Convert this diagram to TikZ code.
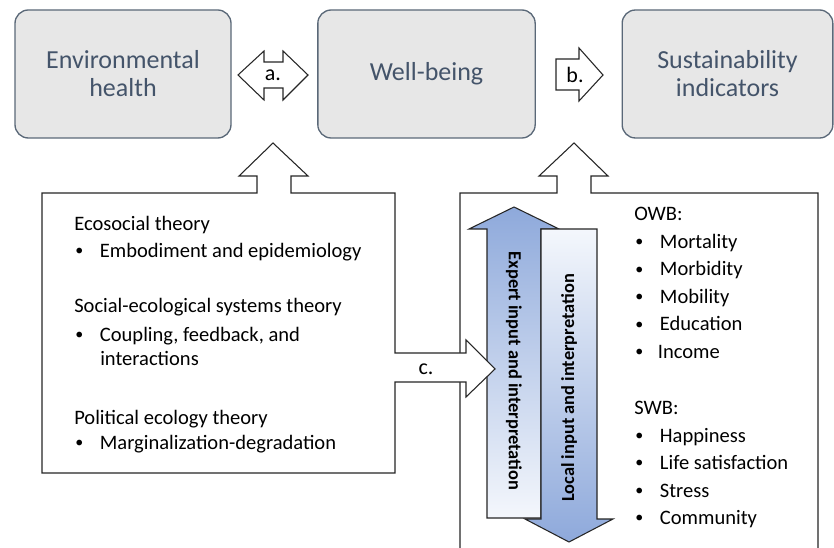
\documentclass[tikz,border=0pt]{standalone}
\usepackage{fontspec}
\setmainfont{Carlito}
\usepackage{graphicx}
\usepackage{tikz}
\usetikzlibrary{calc,positioning}

\definecolor{boxfill}{HTML}{E7E7E7}
\definecolor{boxline}{HTML}{5A6878}
\definecolor{boxtext}{HTML}{44546A}
\definecolor{arrblue}{HTML}{8EA9DB}
\definecolor{arrwhite}{HTML}{F4F7FC}

\newcommand{\blt}{\raisebox{.09em}{\scalebox{.78}{\textbullet}}}

\begin{document}
\begin{tikzpicture}[x=0.75pt,y=-0.75pt,
  box/.style={draw=boxline,line width=1pt,fill=boxfill,rounded corners=10pt,minimum height=96pt,
    text=boxtext,align=center,font=\fontsize{19.5}{21}\selectfont},
  blk/.style={draw=black!85,line width=0.8pt,fill=white},
  lbl/.style={font=\fontsize{16.5}{18}\selectfont,inner sep=0pt},
  itm/.style={anchor=base west,font=\fontsize{15.4}{18}\selectfont,inner sep=0pt},
  vtxt/.style={font=\bfseries\fontsize{13.8}{16}\selectfont,inner sep=0pt}]
  \useasboundingbox (0,0) rectangle (834,548);
  \clip (0,0) rectangle (834,548);

  % top row
  \node[box,minimum width=162pt] (env) at (123,74) {Environmental\\health};
  \node[box,minimum width=163pt] (well) at (426.5,74) {Well-being};
  \node[box,minimum width=158pt] (sust) at (727.5,74) {Sustainability\\indicators};

  % a. and b.
  \draw[blk] (238,75) -- (264,51) -- (264,62) -- (283,62) -- (283,51) -- (308,75)
    -- (283,100) -- (283,88) -- (264,88) -- (264,100) -- cycle;
  \node[lbl] (a) at (273,75) {a.};
  \draw[blk] (556,59) -- (579,59) -- (579,48) -- (603,75) -- (579,101) -- (579,90) -- (556,90) -- cycle;
  \node[lbl] (b) at (575,75) {b.};

  % right box with arrow up to well-being
  \draw[blk] (460,560) -- (460,193) -- (557,193) -- (557,176) -- (539,176) -- (574,143)
    -- (608,176) -- (591,176) -- (591,193) -- (818,193) -- (818,560);

  % expert / local arrows
  \shadedraw[draw=black!85,line width=0.8pt,top color=arrblue,bottom color=arrwhite]
    (514,207) -- (559,229) -- (541,229) -- (541,518) -- (487,518) -- (487,229) -- (469,229) -- cycle;
  \shadedraw[draw=black!85,line width=0.8pt,top color=arrwhite,bottom color=arrblue]
    (541,229) -- (597,229) -- (597,519) -- (613,519) -- (569,542) -- (525,519) -- (541,519) -- cycle;
  \node[vtxt,rotate=-90] (expert) at (514,371) {Expert input and interpretation};
  \node[vtxt,rotate=90] (local) at (569,388) {Local input and interpretation};

  % left box with arrow up and arrow c.
  \draw[blk] (42,193) -- (257,193) -- (257,176) -- (239,176) -- (273,143) -- (308,176)
    -- (291,176) -- (291,193) -- (395,193) -- (395,353) -- (466,353) -- (466,340)
    -- (495,369) -- (466,397) -- (466,382) -- (395,382) -- (395,473) -- (42,473) -- cycle;
  \node[lbl] (c) at (426,369) {c.};

  % theories
  \node[itm] (eco) at (74,230.5) {Ecosocial theory};
  \node[itm] (eco1) at (75,257.5) {\makebox[18.5pt][l]{\blt}Embodiment and epidemiology};
  \node[itm] (ses) at (74,312.5) {Social-ecological systems theory};
  \node[itm] (ses1) at (75,341.5) {\makebox[18.5pt][l]{\blt}Coupling, feedback, and};
  \node[itm] (ses2) at (100,365.5) {interactions};
  \node[itm] (pol) at (74,424.5) {Political ecology theory};
  \node[itm] (pol1) at (75,449.5) {\makebox[18.5pt][l]{\blt}Marginalization-degradation};

  % indicators
  \node[itm] (owb) at (634,220.5) {OWB:};
  \node[itm] (owb1) at (635,248.5) {\makebox[18.5pt][l]{\blt}Mortality};
  \node[itm] (owb2) at (635,276) {\makebox[18.5pt][l]{\blt}Morbidity};
  \node[itm] (owb3) at (635,303.5) {\makebox[18.5pt][l]{\blt}Mobility};
  \node[itm] (owb4) at (635,331) {\makebox[18.5pt][l]{\blt}Education};
  \node[itm] (owb5) at (635,358.5) {\makebox[17pt][l]{\blt}Income};
  \node[itm] (swb) at (634,414.5) {SWB:};
  \node[itm] (swb1) at (635,442) {\makebox[18.5pt][l]{\blt}Happiness};
  \node[itm] (swb2) at (635,469.5) {\makebox[18.5pt][l]{\blt}Life satisfaction};
  \node[itm] (swb3) at (635,497) {\makebox[18.5pt][l]{\blt}Stress};
  \node[itm] (swb4) at (635,524.5) {\makebox[18.5pt][l]{\blt}Community};
\end{tikzpicture}
\end{document}
